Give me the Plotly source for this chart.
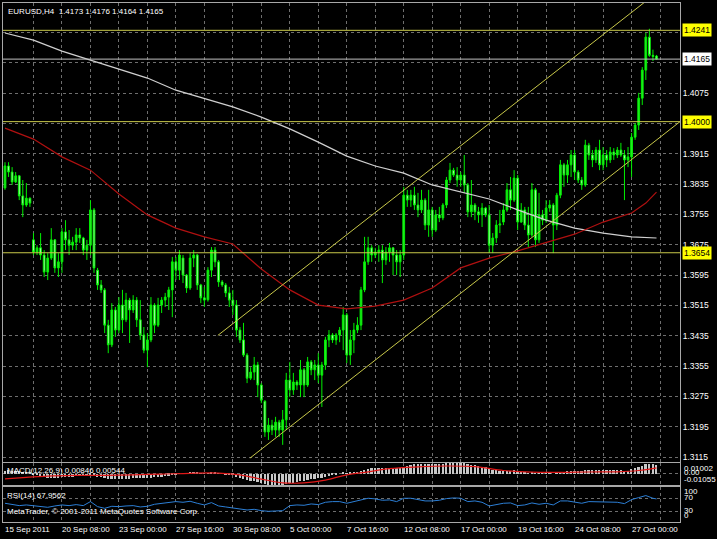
import plotly.graph_objects as go

# ---------------- data ----------------
symbol_title = "EURUSD,H4"

open_ = [1.3825,1.3883,1.3867,1.3841,1.3857,1.3804,1.3780,1.3798,1.3688,1.3656,
         1.3667,1.3648,1.3603,1.3640,1.3688,1.3614,1.3630,1.3709,1.3688,1.3674,
         1.3682,1.3701,1.3693,1.3661,1.3674,1.3767,1.3608,1.3569,1.3556,1.3463,
         1.3411,1.3503,1.3450,1.3516,1.3477,1.3529,1.3503,1.3529,1.3477,1.3437,
         1.3397,1.3424,1.3516,1.3463,1.3516,1.3529,1.3537,1.3556,1.3630,1.3608,
         1.3640,1.3595,1.3561,1.3640,1.3648,1.3569,1.3535,1.3530,1.3608,1.3661,
         1.3630,1.3577,1.3569,1.3548,1.3529,1.3516,1.3450,1.3424,1.3384,1.3323,
         1.3339,1.3358,1.3305,1.3262,1.3181,1.3199,1.3186,1.3207,1.3186,1.3213,
         1.3318,1.3292,1.3313,1.3305,1.3345,1.3305,1.3366,1.3345,1.3358,1.3331,
         1.3358,1.3424,1.3437,1.3424,1.3437,1.3450,1.3490,1.3384,1.3424,1.3450,
         1.3463,1.3556,1.3630,1.3667,1.3648,1.3656,1.3661,1.3635,1.3656,1.3667,
         1.3648,1.3630,1.3648,1.3806,1.3793,1.3806,1.3780,1.3767,1.3793,1.3727,
         1.3767,1.3714,1.3754,1.3746,1.3780,1.3846,1.3872,1.3859,1.3846,1.3859,
         1.3833,1.3762,1.3780,1.3762,1.3754,1.3772,1.3754,1.3674,1.3693,1.3727,
         1.3735,1.3767,1.3820,1.3793,1.3851,1.3735,1.3767,1.3727,1.3701,1.3820,
         1.3688,1.3754,1.3740,1.3772,1.3780,1.3727,1.3806,1.3886,1.3859,1.3886,
         1.3912,1.3867,1.3846,1.3833,1.3938,1.3912,1.3899,1.3925,1.3886,1.3912,
         1.3899,1.3920,1.3912,1.3925,1.3912,1.3899,1.3907,1.3959,1.3991,1.4062,
         1.4136,1.4223,1.4175,1.4173]
high = [1.3893,1.3893,1.3880,1.3867,1.3859,1.3846,1.3838,1.3800,1.3706,1.3674,
        1.3706,1.3661,1.3653,1.3719,1.3690,1.3653,1.3719,1.3740,1.3714,1.3696,
        1.3719,1.3719,1.3696,1.3688,1.3793,1.3772,1.3614,1.3582,1.3561,1.3477,
        1.3521,1.3511,1.3537,1.3556,1.3548,1.3535,1.3542,1.3537,1.3529,1.3458,
        1.3442,1.3537,1.3521,1.3535,1.3537,1.3548,1.3564,1.3643,1.3643,1.3661,
        1.3648,1.3598,1.3653,1.3661,1.3651,1.3572,1.3564,1.3616,1.3669,1.3669,
        1.3635,1.3582,1.3574,1.3564,1.3556,1.3529,1.3458,1.3469,1.3389,1.3352,
        1.3379,1.3366,1.3310,1.3265,1.3218,1.3213,1.3221,1.3213,1.3239,1.3337,
        1.3366,1.3337,1.3318,1.3371,1.3350,1.3379,1.3371,1.3371,1.3389,1.3366,
        1.3432,1.3450,1.3442,1.3442,1.3458,1.3511,1.3495,1.3450,1.3469,1.3484,
        1.3564,1.3696,1.3696,1.3674,1.3667,1.3674,1.3674,1.3669,1.3680,1.3669,
        1.3661,1.3661,1.3828,1.3820,1.3820,1.3828,1.3812,1.3820,1.3798,1.3820,
        1.3775,1.3767,1.3775,1.3785,1.3854,1.3891,1.3878,1.3880,1.3867,1.3912,
        1.3838,1.3846,1.3785,1.3775,1.3785,1.3775,1.3780,1.3706,1.3740,1.3767,
        1.3785,1.3838,1.3854,1.3872,1.3859,1.3785,1.3775,1.3775,1.3838,1.3825,
        1.3812,1.3767,1.3793,1.3793,1.3785,1.3812,1.3899,1.3891,1.3899,1.3925,
        1.3925,1.3872,1.3854,1.3952,1.3944,1.3925,1.3933,1.3952,1.3933,1.3925,
        1.3933,1.3930,1.3933,1.3944,1.3925,1.3933,1.3970,1.3996,1.4076,1.4144,
        1.4234,1.4245,1.4190,1.4176]
low = [1.3820,1.3854,1.3833,1.3838,1.3793,1.3748,1.3775,1.3775,1.3648,1.3648,
       1.3635,1.3590,1.3582,1.3635,1.3601,1.3590,1.3601,1.3661,1.3648,1.3661,
       1.3661,1.3680,1.3648,1.3635,1.3648,1.3601,1.3556,1.3548,1.3442,1.3389,
       1.3405,1.3432,1.3442,1.3442,1.3471,1.3416,1.3495,1.3458,1.3424,1.3389,
       1.3352,1.3418,1.3442,1.3458,1.3495,1.3511,1.3503,1.3484,1.3582,1.3582,
       1.3574,1.3548,1.3556,1.3616,1.3556,1.3521,1.3511,1.3525,1.3590,1.3616,
       1.3564,1.3564,1.3537,1.3511,1.3490,1.3432,1.3416,1.3379,1.3310,1.3318,
       1.3318,1.3273,1.3257,1.3168,1.3160,1.3173,1.3168,1.3168,1.3147,1.3186,
       1.3273,1.3279,1.3292,1.3273,1.3273,1.3300,1.3331,1.3318,1.3310,1.3247,
       1.3345,1.3405,1.3416,1.3411,1.3418,1.3397,1.3363,1.3358,1.3389,1.3442,
       1.3450,1.3550,1.3622,1.3630,1.3640,1.3630,1.3574,1.3622,1.3630,1.3595,
       1.3595,1.3590,1.3635,1.3775,1.3775,1.3767,1.3748,1.3759,1.3714,1.3696,
       1.3696,1.3709,1.3735,1.3740,1.3772,1.3838,1.3854,1.3828,1.3828,1.3812,
       1.3748,1.3748,1.3740,1.3733,1.3722,1.3748,1.3653,1.3653,1.3680,1.3706,
       1.3727,1.3762,1.3767,1.3788,1.3714,1.3733,1.3714,1.3669,1.3696,1.3669,
       1.3680,1.3727,1.3733,1.3762,1.3653,1.3714,1.3798,1.3828,1.3838,1.3854,
       1.3846,1.3838,1.3820,1.3828,1.3899,1.3880,1.3891,1.3872,1.3872,1.3880,
       1.3891,1.3899,1.3904,1.3907,1.3793,1.3880,1.3854,1.3952,1.3978,1.4044,
       1.4110,1.4171,1.4160,1.4164]
close = [1.3883,1.3867,1.3841,1.3857,1.3804,1.3780,1.3798,1.3785,1.3656,1.3667,
         1.3648,1.3603,1.3640,1.3688,1.3614,1.3630,1.3709,1.3688,1.3674,1.3682,
         1.3701,1.3693,1.3661,1.3674,1.3767,1.3614,1.3569,1.3556,1.3463,1.3411,
         1.3503,1.3450,1.3516,1.3477,1.3529,1.3503,1.3529,1.3477,1.3437,1.3397,
         1.3424,1.3516,1.3463,1.3516,1.3529,1.3537,1.3556,1.3630,1.3608,1.3648,
         1.3595,1.3561,1.3640,1.3648,1.3569,1.3535,1.3529,1.3608,1.3661,1.3630,
         1.3577,1.3569,1.3548,1.3529,1.3516,1.3450,1.3424,1.3384,1.3323,1.3339,
         1.3358,1.3305,1.3265,1.3181,1.3199,1.3186,1.3207,1.3186,1.3213,1.3318,
         1.3292,1.3313,1.3305,1.3345,1.3305,1.3366,1.3345,1.3358,1.3331,1.3358,
         1.3424,1.3437,1.3424,1.3437,1.3450,1.3490,1.3384,1.3424,1.3450,1.3463,
         1.3556,1.3630,1.3667,1.3648,1.3656,1.3661,1.3635,1.3656,1.3667,1.3648,
         1.3630,1.3648,1.3806,1.3793,1.3806,1.3780,1.3767,1.3793,1.3727,1.3767,
         1.3714,1.3754,1.3746,1.3780,1.3846,1.3872,1.3859,1.3846,1.3859,1.3833,
         1.3762,1.3780,1.3762,1.3754,1.3772,1.3754,1.3674,1.3693,1.3727,1.3730,
         1.3767,1.3820,1.3793,1.3851,1.3735,1.3767,1.3727,1.3701,1.3820,1.3688,
         1.3754,1.3740,1.3772,1.3780,1.3727,1.3806,1.3886,1.3859,1.3886,1.3912,
         1.3867,1.3846,1.3833,1.3938,1.3912,1.3899,1.3925,1.3886,1.3912,1.3899,
         1.3920,1.3912,1.3925,1.3912,1.3899,1.3907,1.3959,1.3991,1.4062,1.4136,
         1.4223,1.4175,1.4172,1.4165]
bars = list(range(len(close)))

# moving averages sampled along the chart (bar index -> value)
ma_bars = [0, 8, 16, 24, 32, 40, 48, 56, 64, 72, 80, 88, 96, 104, 112, 120,
           128, 136, 144, 152, 160, 168, 176, 180, 183]
ma_slow = [1.4234, 1.4215, 1.4186, 1.4163, 1.4139, 1.4115, 1.4083, 1.4062, 1.4039,
           1.4012, 1.3981, 1.3946, 1.3909, 1.3883, 1.3864, 1.3833, 1.3814, 1.3796,
           1.3767, 1.3740, 1.3719, 1.3706, 1.3696, 1.3694, 1.3693]
ma_fast = [1.3983, 1.3954, 1.3907, 1.3872, 1.3809, 1.3754, 1.3719, 1.3696, 1.3677,
           1.3611, 1.3556, 1.3516, 1.3506, 1.3513, 1.3529, 1.3561, 1.3614, 1.3640,
           1.3659, 1.3680, 1.3703, 1.3735, 1.3759, 1.3785, 1.3814]

# drawn objects
hline_levels = [1.4241, 1.4000, 1.3654]
channel_upper_bars = [59.8, 190.0]
channel_upper = [1.3436, 1.4391]
channel_lower_bars = [68.8, 189.6]
channel_lower = [1.3112, 1.4000]

# MACD(12,26,9)
macd_hist = [0.0030,0.0031,0.0030,0.0028,0.0024,0.0018,0.0014,0.0010,
             -0.0005,-0.0015,-0.0022,-0.0030,-0.0036,-0.0036,-0.0038,-0.0040,
             -0.0034,-0.0030,-0.0028,-0.0026,-0.0024,-0.0022,-0.0022,-0.0020,
             -0.0012,-0.0018,-0.0026,-0.0032,-0.0040,-0.0048,-0.0048,-0.0050,
             -0.0048,-0.0048,-0.0046,-0.0046,-0.0044,-0.0042,-0.0042,-0.0044,
             -0.0044,-0.0038,-0.0034,-0.0030,-0.0026,-0.0022,-0.0018,-0.0010,
             -0.0006,0.0002,0.0004,0.0002,0.0008,0.0012,0.0010,0.0004,
             -0.0001,0.0002,0.0008,0.0010,0.0006,0.0001,-0.0004,-0.0010,
             -0.0016,-0.0026,-0.0036,-0.0046,-0.0060,-0.0068,-0.0072,-0.0080,
             -0.0088,-0.0098,-0.0102,-0.0104,-0.0105,-0.0105,-0.0104,-0.0096,
             -0.0090,-0.0085,-0.0080,-0.0072,-0.0068,-0.0060,-0.0054,-0.0048,
             -0.0044,-0.0040,-0.0030,-0.0020,-0.0012,-0.0006,0.0000,0.0008,
             0.0006,0.0008,0.0012,0.0016,0.0024,0.0036,0.0046,0.0052,
             0.0056,0.0058,0.0058,0.0058,0.0058,0.0056,0.0054,0.0052,
             0.0064,0.0074,0.0082,0.0088,0.0090,0.0094,0.0090,0.0092,
             0.0088,0.0088,0.0088,0.0090,0.0096,0.0100,0.0100,0.0098,
             0.0098,0.0098,0.0090,0.0084,0.0078,0.0072,0.0066,0.0060,
             0.0046,0.0038,0.0034,0.0028,0.0026,0.0028,0.0028,0.0032,
             0.0022,0.0018,0.0012,0.0006,0.0010,0.0004,0.0004,0.0002,
             0.0004,0.0004,0.0000,0.0004,0.0014,0.0018,0.0024,0.0030,
             0.0030,0.0028,0.0026,0.0034,0.0036,0.0036,0.0038,0.0036,
             0.0036,0.0034,0.0034,0.0034,0.0034,0.0034,0.0030,0.0030,
             0.0040,0.0050,0.0062,0.0074,0.0088,0.0092,0.0090,0.00846]
signal_bars = [0, 6, 12, 20, 28, 36, 44, 52, 60, 66, 72, 78, 84, 90, 96, 102,
               108, 116, 124, 132, 140, 148, 156, 164, 172, 178, 183]
macd_signal = [-0.0048, -0.0035, -0.0022, -0.0016, -0.0015, -0.0010, -0.0004, 0.0004,
               0.0006, -0.0010, -0.0050, -0.0085, -0.0086, -0.0060, -0.0010, 0.0018,
               0.0048, 0.0064, 0.0072, 0.0066, 0.0030, 0.0014, 0.0012, 0.0016,
               0.0018, 0.0030, 0.00544]
macd_min, macd_max = -0.01055, 0.01002

# RSI(14)
rsi_bars = list(range(0, 184, 2)) + [183]
rsi = [55,52,48,50,47,45,43,47,50,48,51,48,60,45,40,46,45,47,48,44,
       46,52,54,56,60,58,61,55,50,57,47,44,42,38,35,37,33,31,32,33,
       48,50,49,53,51,58,60,60,55,60,66,70,68,64,65,60,70,70,66,62,
       62,64,69,71,70,60,62,58,47,52,55,56,48,50,56,52,55,50,62,62,
       58,55,60,60,58,59,58,54,66,72,78,70,67.9562]

# axis labels
price_tick_labels = ["1.3115", "1.3195", "1.3275", "1.3355", "1.3435", "1.3515",
                     "1.3595", "1.3675", "1.3755", "1.3835", "1.3915", "1.3995",
                     "1.4075", "1.4155", "1.4235"]
hidden_price_labels = ["1.3995", "1.4155", "1.4235"]
date_tick_bars = [0, 16, 32, 48, 64, 80, 96, 112, 128, 144, 160, 176]
date_tick_labels = ["15 Sep 2011", "20 Sep 08:00", "23 Sep 00:00", "27 Sep 16:00",
                    "30 Sep 08:00", "5 Oct 00:00", "7 Oct 16:00", "12 Oct 08:00",
                    "17 Oct 00:00", "19 Oct 16:00", "24 Oct 08:00", "27 Oct 00:00"]
grid_bars = list(range(8, 190, 8))

# ---------------- styling ----------------
FONT = "Liberation Sans"
GRID = "#6e6e6e"
FRAME = "#a8a8a8"
YEL = "#c8c84a"
W, H = 717, 539
ML, MR, MT, MB = 3, 37, 3, 17
plot_h = H - MT - MB

def py(pix):
    """pixel row (from top of image) -> paper y"""
    return (H - MB - pix) / plot_h

fig = go.Figure()

fig.add_trace(go.Candlestick(
    x=bars, open=open_, high=high, low=low, close=close,
    increasing=dict(line=dict(color="#00f000", width=1), fillcolor="#2ee82e"),
    decreasing=dict(line=dict(color="#00f000", width=1), fillcolor="#c8ffc8"),
    whiskerwidth=0, showlegend=False, hoverinfo="skip", xaxis="x", yaxis="y"))

fig.add_trace(go.Scatter(x=ma_bars, y=ma_slow, mode="lines",
                         line=dict(color="#d0d0d0", width=1.2),
                         showlegend=False, hoverinfo="skip", xaxis="x", yaxis="y"))
fig.add_trace(go.Scatter(x=ma_bars, y=ma_fast, mode="lines",
                         line=dict(color="#b01010", width=1.2),
                         showlegend=False, hoverinfo="skip", xaxis="x", yaxis="y"))
fig.add_trace(go.Scatter(x=channel_upper_bars, y=channel_upper, mode="lines",
                         line=dict(color=YEL, width=1),
                         showlegend=False, hoverinfo="skip", xaxis="x", yaxis="y"))
fig.add_trace(go.Scatter(x=channel_lower_bars, y=channel_lower, mode="lines",
                         line=dict(color=YEL, width=1),
                         showlegend=False, hoverinfo="skip", xaxis="x", yaxis="y"))

fig.add_trace(go.Bar(x=bars, y=macd_hist, width=0.5, marker=dict(color="#c8c8c8", line=dict(width=0)),
                     showlegend=False, hoverinfo="skip", xaxis="x2", yaxis="y2"))
fig.add_trace(go.Scatter(x=signal_bars, y=macd_signal, mode="lines",
                         line=dict(color="#e01818", width=1.2), line_shape="spline",
                         showlegend=False, hoverinfo="skip", xaxis="x2", yaxis="y2"))

fig.add_trace(go.Scatter(x=rsi_bars, y=rsi, mode="lines",
                         line=dict(color="#2c7fd6", width=1),
                         showlegend=False, hoverinfo="skip", xaxis="x3", yaxis="y3"))

x_range = [-0.56, 189.6]
xcommon = dict(range=x_range, tickmode="array", tickvals=grid_bars, showticklabels=False,
               showgrid=True, gridcolor=GRID, griddash="3px,3px", gridwidth=1,
               showline=True, mirror=True, linecolor=FRAME, linewidth=1,
               zeroline=False, ticks="", fixedrange=True, automargin=False, domain=[0, 1])

main_dom = [py(462), 1.0]
macd_dom = [py(485), py(463)]
rsi_dom = [0.0, py(487)]

price_ticktext = [("" if t in hidden_price_labels else t) for t in price_tick_labels]

fig.update_layout(
    width=W, height=H, margin=dict(l=ML, r=MR, t=MT, b=MB, pad=0),
    paper_bgcolor="black", plot_bgcolor="black", template="none",
    font=dict(family=FONT, size=8, color="white"),
    showlegend=False, bargap=0,
    xaxis=dict(xcommon, anchor="y", rangeslider=dict(visible=False)),
    xaxis2=dict(xcommon, anchor="y2", matches="x"),
    xaxis3=dict(xcommon, anchor="y3", matches="x"),
    yaxis=dict(domain=main_dom, range=[1.31018, 1.43131], side="right",
               tickmode="array", tickvals=[float(t) for t in price_tick_labels],
               ticktext=price_ticktext, tickfont=dict(family=FONT, size=8.5, color="white"),
               showgrid=True, gridcolor=GRID, griddash="3px,3px", gridwidth=1,
               showline=True, mirror=True, linecolor=FRAME, linewidth=1,
               zeroline=False, ticks="", automargin=False, fixedrange=True),
    yaxis2=dict(domain=macd_dom, range=[macd_min, macd_max], tickmode="array", tickvals=[0],
                showticklabels=False, showgrid=True, gridcolor=GRID, griddash="3px,3px",
                showline=True, mirror=True, linecolor=FRAME, linewidth=1,
                zeroline=False, ticks="", automargin=False, fixedrange=True),
    yaxis3=dict(domain=rsi_dom, range=[-0.9, 103.6], tickmode="array", tickvals=[30, 70],
                showticklabels=False, showgrid=True, gridcolor=GRID, griddash="3px,3px",
                showline=True, mirror=True, linecolor=FRAME, linewidth=1,
                zeroline=False, ticks="", automargin=False, fixedrange=True),
)

# horizontal objects
shapes = []
for lv in hline_levels:
    shapes.append(dict(type="line", xref="x domain", x0=0, x1=1, yref="y", y0=lv, y1=lv,
                       line=dict(color=YEL, width=1), layer="above"))
shapes.append(dict(type="line", xref="x domain", x0=0, x1=1, yref="y", y0=close[-1], y1=close[-1],
                   line=dict(color="#c0c0c0", width=1), layer="above"))
fig.update_layout(shapes=shapes)

ann = []
def txt(text, x, y, xref="paper", yref="paper", xanchor="left", yanchor="middle",
        color="white", size=8, bg=None, xshift=0, yshift=0):
    d = dict(text=text, x=x, y=y, xref=xref, yref=yref, xanchor=xanchor, yanchor=yanchor,
             showarrow=False, font=dict(family=FONT, size=size, color=color),
             xshift=xshift, yshift=yshift, borderpad=1)
    if bg:
        d["bgcolor"] = bg
    ann.append(d)

fmt = lambda v: f"{v:.4f}"
txt(f"{symbol_title}  {fmt(open_[-1])} {fmt(high[-1])} {fmt(low[-1])} {fmt(close[-1])}",
    0, py(11.5), xshift=3)
txt(f"MACD(12,26,9) {macd_hist[-1]:.5f} {macd_signal[-1]:.5f}", 0, py(470.5), xshift=2)
txt(f"RSI(14) {rsi[-1]:.4f}", 0, py(495), xshift=2)
txt("MetaTrader, © 2001-2011 MetaQuotes Software Corp.", 0, py(511.5), xshift=2)

for b, lab in zip(date_tick_bars, date_tick_labels):
    txt(lab, b, 0, xref="x3", yanchor="top", yshift=-1, xshift=-2)

for lv in hline_levels:
    txt(f"{lv:.4f}", 1, lv, yref="y", color="black", bg="#ffff00", xshift=2, size=8.5)
txt(fmt(close[-1]), 1, close[-1], yref="y", color="black", bg="#ffffff", xshift=2, size=8.5)

txt(f"{macd_max:.5f}", 1, py(468.5), xshift=2)
txt("0.00", 1, py(472.5), xshift=2)
txt(f"{macd_min:.5f}", 1, py(479.5), xshift=2)
txt("100", 1, py(491.5), xshift=2)
txt("70", 1, py(497.5), xshift=2)
txt("30", 1, py(510.5), xshift=2)
txt("0", 1, py(515.5), xshift=2)

fig.update_layout(annotations=ann)

fig.write_html("out.html", config={"displayModeBar": False},
               post_script="document.body.style.margin='0px';document.body.style.overflow='hidden';")
